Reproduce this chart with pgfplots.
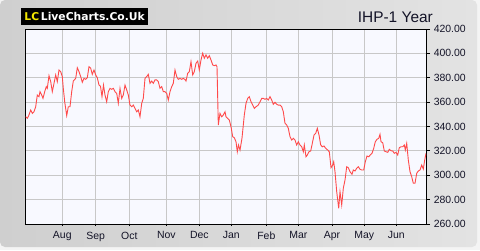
\documentclass[border=0pt]{standalone}
\usepackage{fontspec}
\setmainfont{Liberation Sans}
\newfontfamily\logofont{DejaVu Sans}
\usepackage{pgfplots}
\pgfplotsset{compat=1.18}
\definecolor{outerbg}{HTML}{F4F4F4}
\definecolor{panelL}{HTML}{CFCFCF}
\definecolor{panelR}{HTML}{E3E3E3}
\definecolor{plotbg}{HTML}{F8F9FF}
\definecolor{gridc}{HTML}{C8C8C8}
\definecolor{linec}{HTML}{FF4A4A}
\definecolor{lcyellow}{HTML}{F2E600}
\definecolor{txt}{HTML}{141428}
\begin{document}
\begin{tikzpicture}[x=1bp,y=1bp]
\useasboundingbox (0,0) rectangle (480,250);
\fill[outerbg] (0,0) rectangle (480,250);
\shade[left color=panelL, right color=panelR, rounded corners=5bp] (0,3) rectangle (477,250);
\fill[black] (20.7,225) rectangle (148.3,241.7);
\node[anchor=base west, inner sep=0, font=\logofont\bfseries\fontsize{10.8}{12}\selectfont, text=lcyellow] at (24.3,229.3) {LC};
\node[anchor=base west, inner sep=0, font=\logofont\bfseries\fontsize{10.8}{12}\selectfont, text=white] at (40.7,229.3) {LiveCharts.Co.Uk};
\node[anchor=base east, inner sep=0, font=\fontsize{15.5}{18}\selectfont, text=txt] at (433,227.3) {IHP-1 Year};
\begin{axis}[
 at={(25bp,26bp)}, anchor=south west,
 scale only axis, width=401bp, height=195bp,
 xmin=25, xmax=426, ymin=260, ymax=420,
 axis background/.style={fill=plotbg},
 grid=major, major grid style={gridc, line width=0.8bp},
 xtick={62.3,95.7,129.3,166.3,199.3,231.3,266.3,298.3,332,364.3,396.3},
 xticklabels={Aug,Sep,Oct,Nov,Dec,Jan,Feb,Mar,Apr,May,Jun},
 ytick={260,280,...,420},
 xtick pos=bottom, ytick pos=right, yticklabel pos=right,
 tick align=outside,
 ytick style={black, line width=0.8bp, /pgfplots/major tick length=4bp},
 xtick style={black, line width=0.8bp, /pgfplots/major tick length=2bp},
 yticklabel style={/pgf/number format/.cd, fixed, fixed zerofill, precision=2, 1000 sep={}},
 /pgf/number format/assume math mode=true,
 tick label style={font=\fontsize{10.5}{12}\selectfont, text=txt},
 axis line style={black, line width=0.8bp},
 clip=true,
]
\addplot[linec, line width=0.9bp, no markers] coordinates {
(25.7,348.0)(27.3,346.7)(28.7,348.9)(30.7,353.5)(32.3,350.8)(34,352.1)(35.7,356.2)(37.3,365.8)(39,364.5)(40,368.6)
(41.7,365.8)(43,363.1)(44.7,368.6)(46.3,372.7)(47.3,371.3)(49,381.7)(50.7,376.8)(52.3,368.6)(54,375.4)(55.7,382.3)
(57.3,376.8)(59,386.4)(60.7,385.0)(62.3,380.9)(63.3,371.3)(64.7,360.3)(66.7,348.9)(68.3,356.2)(70,356.2)(71.7,368.6)
(73.3,377.3)(75.7,379.5)(77.3,388.2)(79,385.0)(80.7,380.9)(82.3,376.3)(84,379.5)(85.7,378.7)(87.3,380.0)(89,389.1)
(90.7,387.8)(92.3,382.8)(94,386.4)(95.7,382.3)(97.3,380.0)(99,374.0)(100.5,373.0)(102,364.5)(103.5,374.0)(105,365.8)
(106.7,360.3)(108.3,368.6)(110,371.3)(111.7,370.5)(113.3,371.3)(115,368.6)(116.7,367.2)(118.3,359.0)(120,371.3)(121.7,363.1)
(123.3,365.8)(125,374.0)(126.7,370.0)(128.3,365.8)(130,357.6)(131.7,356.2)(133.3,357.6)(135,354.9)(136.7,352.1)(138.3,353.5)
(140,348.0)(141.7,359.0)(143.3,363.1)(145,379.5)(146.7,380.9)(148.3,382.8)(150,375.4)(151.7,377.3)(153.3,375.4)(155,378.2)
(156.7,378.2)(158.3,376.8)(160,371.3)(161.7,372.7)(163.3,368.6)(165,368.6)(166.7,367.2)(168.3,361.7)(170,368.6)(171.7,372.7)
(173.3,375.4)(175,386.4)(176.7,380.9)(178.3,378.7)(180,379.5)(181.7,378.7)(183.3,379.5)(184.8,378.7)(186,377.3)(187.7,383.7)
(189.3,385.0)(191,393.2)(192.7,382.3)(194.3,385.0)(196,391.9)(197.7,393.7)(199.3,386.4)(201,394.6)(202.7,400.1)(204.3,396.0)
(206,398.7)(207.7,396.0)(209.3,398.1)(211,394.6)(212.7,390.5)(214.3,389.9)(216,390.5)(217,389.1)(218.3,341.2)(220,350.8)
(221.7,348.0)(223.3,349.4)(225,352.1)(226,348.0)(227.7,346.7)(229.3,345.3)(231,339.8)(232.7,331.6)(234.3,330.8)(236,327.5)
(237.3,319.3)(238.5,324.8)(240,320.7)(242,330.6)(244.3,349.4)(246,359.0)(247.7,363.1)(249.3,364.5)(251,360.3)(252.7,357.6)
(254.3,354.9)(256,356.2)(258.3,357.6)(260,360.3)(261.7,363.1)(263.3,363.1)(265,362.3)(266.7,363.1)(268.3,361.7)(270,364.5)
(271.7,361.7)(273.3,358.2)(275,359.9)(276.7,358.2)(278.3,357.6)(280,357.6)(281.7,356.2)(283.3,352.1)(285,342.6)(286.7,341.2)
(288.3,338.5)(290,331.6)(291.7,328.9)(293.3,330.3)(295,328.9)(296.7,324.8)(298.3,327.5)(300,324.8)(301.7,323.4)(303.3,319.3)
(304.3,324.8)(306,315.2)(307.3,316.6)(309,319.3)(310.7,319.9)(312.3,326.2)(314,333.0)(315.7,334.4)(317.3,338.5)(319,333.0)
(320.7,324.8)(322.3,323.4)(324,324.0)(325.7,322.1)(327.7,320.7)(329.3,319.3)(331,306.2)(332.7,308.4)(333.7,311.1)(335,302.9)
(336.7,286.5)(338.7,272.9)(340,286.5)(341.7,275.6)(343.3,289.3)(345,296.1)(346.7,307.0)(348.3,306.2)(350,302.9)(352,300.8)
(353.3,304.3)(355,303.5)(356.7,305.7)(358.3,307.0)(360,304.9)(361.7,304.3)(363.7,304.3)(365.3,311.1)(367,315.8)(368.7,315.2)
(370.3,316.6)(372,318.0)(373.7,322.1)(375.3,327.5)(377,329.5)(378.7,330.3)(380,333.6)(381,327.5)(382.7,326.7)(384.3,319.9)
(386,319.3)(387.7,318.8)(389.3,321.3)(391,320.1)(392.7,319.9)(394.3,318.0)(396,318.8)(397.7,316.6)(399.3,322.6)(401,323.4)
(402.7,323.4)(404.3,324.8)(405.3,320.7)(406.7,326.2)(408.3,312.5)(410,302.9)(411.7,298.8)(413.3,293.4)(415,293.4)(416.7,301.6)
(418.3,303.5)(420,304.3)(421.7,308.4)(423.3,305.1)(424.7,312.5)(426,318.0)
};
\end{axis}
\end{tikzpicture}
\end{document}
